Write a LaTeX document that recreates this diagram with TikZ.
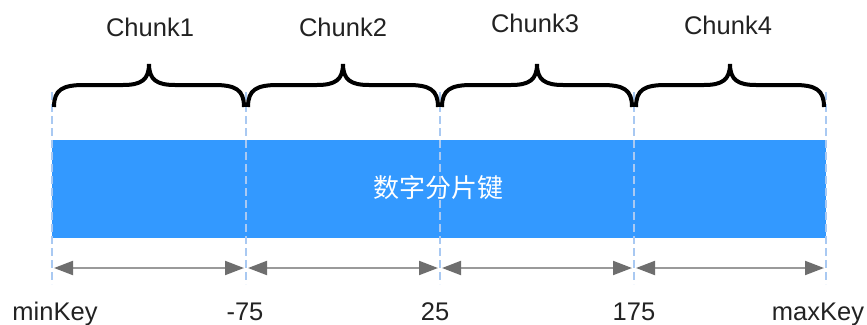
\documentclass[tikz,border=0pt]{standalone}
\usepackage{fontspec}
\setmainfont{Liberation Sans}
\newfontfamily\cjk{Noto Sans CJK SC}
\usetikzlibrary{arrows.meta}
\definecolor{barblue}{HTML}{3399FF}
\definecolor{dashblue}{HTML}{A9C9F2}
\definecolor{arrgray}{HTML}{9A9A9A}
\definecolor{headgray}{HTML}{6E6E6E}
\definecolor{txtgray}{HTML}{222222}
\tikzset{
  guide/.style={draw=dashblue, line width=1.5pt, dash pattern=on 8pt off 4pt},
  bracepath/.style={draw=black, line width=4pt},
  rangearrow/.style={draw=arrgray, line width=2pt,
    {Triangle[length=19pt,width=14pt,color=headgray]}-{Triangle[length=19pt,width=14pt,color=headgray]},
    shorten <=2pt, shorten >=2pt},
  chunklabel/.style={font=\fontsize{25.5}{25.5}\selectfont, text=txtgray, inner sep=0pt},
  keylabel/.style={font=\fontsize{25.5}{25.5}\selectfont, text=txtgray, inner sep=0pt, anchor=base},
}
\newcommand{\mybrace}[2]{%
  \pgfmathsetmacro{\mm}{(#1+#2)/2}%
  \draw[bracepath] (#1+2,107) .. controls (#1+2,90) and (#1+10,85) .. (#1+32,85)
    -- (\mm-26,85) .. controls (\mm-8,85) and (\mm,80) .. (\mm,64)
    .. controls (\mm,80) and (\mm+8,85) .. (\mm+26,85)
    -- (#2-32,85) .. controls (#2-10,85) and (#2-2,90) .. (#2-2,107);}
\begin{document}
\begin{tikzpicture}[x=1pt,y=-1pt]
\useasboundingbox (0,0) rectangle (867,324);
\path[clip] (0,0) rectangle (867,324);
% blue bar
\node[fill=barblue, minimum width=774pt, minimum height=98pt, inner sep=0pt, anchor=north west] (bar) at (52,140) {};
\node[font=\cjk\fontsize{26}{26}\selectfont, text=white] (barlabel) at (438,188) {数字分片键};
% guide coordinates
\foreach \n/\x in {0/52,1/246,2/440,3/634,4/826}{
  \coordinate (gt\n) at (\x,92);
  \coordinate (gb\n) at (\x,284);
  \coordinate (a\n) at (\x,268);
}
\foreach \n in {0,...,4}{ \draw[guide] (gt\n) -- (gb\n); }
% braces
\mybrace{52}{246}
\mybrace{246}{440}
\mybrace{440}{634}
\mybrace{634}{826}
% chunk labels
\node[chunklabel] (c1) at (150,27) {Chunk1};
\node[chunklabel] (c2) at (343,27) {Chunk2};
\node[chunklabel] (c3) at (535,23) {Chunk3};
\node[chunklabel] (c4) at (728,25) {Chunk4};
% arrows
\draw[rangearrow] (a0) -- (a1);
\draw[rangearrow] (a1) -- (a2);
\draw[rangearrow] (a2) -- (a3);
\draw[rangearrow] (a3) -- (a4);
% key labels
\node[keylabel] (k0) at (55,320) {minKey};
\node[keylabel] (k1) at (245,320) {-75};
\node[keylabel] (k2) at (435,320) {25};
\node[keylabel] (k3) at (634,320) {175};
\node[keylabel] (k4) at (818,320) {maxKey};
\end{tikzpicture}
\end{document}
